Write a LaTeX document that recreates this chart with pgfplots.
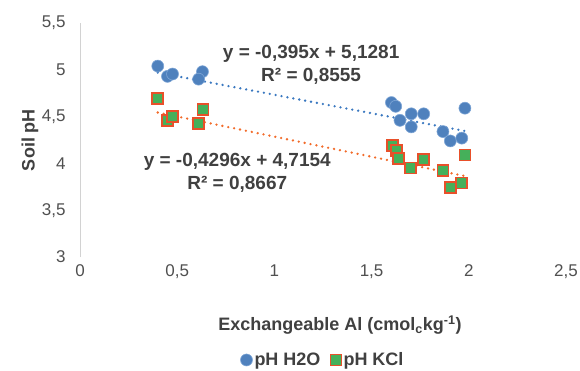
\documentclass[border=0pt]{standalone}
\usepackage{pgfplots}
\pgfplotsset{compat=1.18}
\usepackage{fontspec}
\setmainfont{Liberation Sans}
\definecolor{ptblue}{HTML}{4F81BD}
\definecolor{ptblueedge}{HTML}{7FA6D6}
\definecolor{trblue}{HTML}{3A78C0}
\definecolor{trorange}{HTML}{F26B2A}
\definecolor{sqgreen}{HTML}{45B05A}
\definecolor{sqred}{HTML}{E8502A}
\definecolor{txtdark}{HTML}{404040}
\definecolor{tickgray}{HTML}{505050}
\begin{document}
\begin{tikzpicture}
\path[use as bounding box] (-80pt,-113pt) rectangle (500pt,257pt);
\begin{axis}[
  at={(0pt,0pt)}, anchor=south west,
  scale only axis, width=486pt, height=234pt,
  xmin=0, xmax=2.5, ymin=3, ymax=5.5,
  xtick={0,0.5,1,1.5,2,2.5},
  ytick={3,3.5,4,4.5,5,5.5},
  axis lines*=left,
  x axis line style={draw=none},
  y axis line style={draw=gray!35, line width=0.8pt, -},
  major tick length=0pt,
  /pgf/number format/use comma,
  /pgf/number format/assume math mode=true,
  tick label style={font=\fontsize{17}{20}\selectfont, text=tickgray},
  xticklabel style={yshift=-4pt},
  yticklabel style={xshift=-11pt},
  xlabel={Exchangeable Al (cmol\textsubscript{c}kg\textsuperscript{-1})},
  ylabel={Soil pH},
  label style={font=\bfseries\fontsize{18}{21}\selectfont, text=txtdark},
  xlabel style={at={(axis description cs:0.535,-0.29)}, anchor=center},
  ylabel style={at={(axis description cs:-0.103,0.5)}, anchor=center, rotate=0},
  legend style={draw=none, fill=none, at={(axis description cs:0.5,-0.44)}, anchor=center,
    font=\bfseries\fontsize{18}{21}\selectfont, text=txtdark,
    /tikz/every even column/.append style={column sep=8pt}},
  legend columns=2,
  clip=false,
]
\addplot[only marks, mark=*, mark size=6pt, mark options={fill=ptblue, draw=ptblueedge, line width=0.6pt}]
coordinates {
(0.40,5.04) (0.45,4.93) (0.476,4.955) (0.63,4.98) (0.61,4.90)
(1.602,4.65) (1.624,4.61) (1.646,4.46) (1.704,4.53) (1.768,4.53)
(1.704,4.39) (1.867,4.34) (1.905,4.24) (1.964,4.27) (1.98,4.59)
};
\addlegendentry{pH H2O}
\addplot[only marks, mark=square*, mark size=5.5pt, mark options={fill=sqgreen, draw=sqred, line width=1.8pt}]
coordinates {
(0.40,4.69) (0.45,4.46) (0.476,4.50) (0.633,4.58) (0.61,4.43)
(1.607,4.19) (1.63,4.14) (1.64,4.05) (1.70,3.95) (1.768,4.04)
(1.867,3.92) (1.905,3.74) (1.964,3.79) (1.98,4.09)
};
\addlegendentry{pH KCl}
\addplot[forget plot, trblue, line width=2.6pt, line cap=round, dash pattern=on 0pt off 6pt]
coordinates {(0.40,4.970) (1.98,4.346)};
\addplot[forget plot, trorange, line width=2.6pt, line cap=round, dash pattern=on 0pt off 6pt]
coordinates {(0.40,4.544) (1.98,3.865)};
\node[align=center, font=\bfseries\fontsize{19}{23}\selectfont, text=txtdark] at (axis cs:1.189,5.057)
  {y = -0,395x + 5,1281\\R² = 0,8555};
\node[align=center, font=\bfseries\fontsize{19}{23}\selectfont, text=txtdark] at (axis cs:0.809,3.903)
  {y = -0,4296x + 4,7154\\R² = 0,8667};
\end{axis}
\end{tikzpicture}
\end{document}
